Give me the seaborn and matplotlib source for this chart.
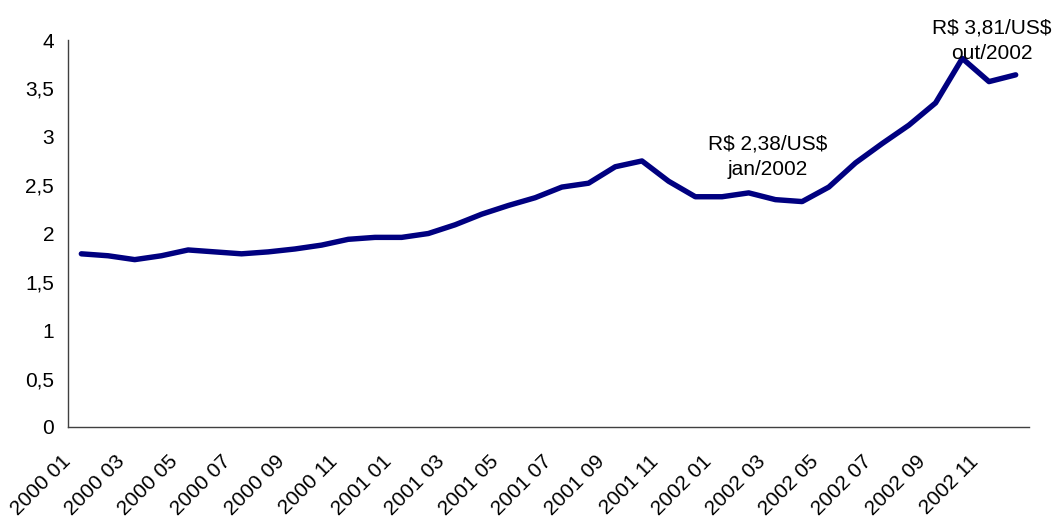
import numpy as np
import pandas as pd
import matplotlib
matplotlib.use("Agg")
import matplotlib.pyplot as plt
import matplotlib.transforms as mtransforms
import seaborn as sns
from matplotlib.ticker import FixedLocator, MultipleLocator, FuncFormatter

# Monthly exchange rate, R$ per US$
months = [f"{y} {m:02d}" for y in (2000, 2001, 2002) for m in range(1, 13)]
rate = [1.79, 1.77, 1.73, 1.77, 1.83, 1.81, 1.79, 1.81, 1.84, 1.88, 1.94, 1.96,
        1.96, 2.00, 2.09, 2.20, 2.29, 2.37, 2.48, 2.52, 2.69, 2.75, 2.54, 2.38,
        2.38, 2.42, 2.35, 2.33, 2.48, 2.73, 2.93, 3.12, 3.35, 3.81, 3.57, 3.64]
tick_labels = months[::2]

df = pd.DataFrame({"pos": np.arange(len(months)), "rate": rate})

sns.set_style("white")
plt.rcParams["font.family"] = ["Liberation Sans", "DejaVu Sans"]

fig = plt.figure(figsize=(10.59, 5.17), dpi=100)
ax = fig.add_axes([0.0642, 0.1741, 0.9075, 0.7485])

sns.lineplot(data=df, x="pos", y="rate", ax=ax, color="#000080", linewidth=3.9,
             solid_capstyle="round", solid_joinstyle="round")

ax.set_xlim(-0.5, len(months) - 0.5)
ax.set_ylim(0, 4)
ax.yaxis.set_major_locator(MultipleLocator(0.5))
ax.yaxis.set_major_formatter(FuncFormatter(lambda v, _: f"{v:g}".replace(".", ",")))

# tick marks on category boundaries, labels on every other category
ax.xaxis.set_minor_locator(FixedLocator(np.arange(-0.5, len(months), 1.0)))
ax.xaxis.set_major_locator(FixedLocator(np.arange(0, len(months), 2)))
ax.set_xticklabels(tick_labels, rotation=45, ha="right", rotation_mode="anchor")
ax.tick_params(axis="x", which="major", length=0, pad=18, labelsize=15, labelcolor="black")
ax.tick_params(axis="x", which="minor", length=6, width=1, color="#404040", direction="out")
ax.tick_params(axis="y", which="major", length=6, width=1, color="#404040",
               direction="out", labelsize=15, labelcolor="black", pad=4)
shift = mtransforms.ScaledTranslation(-20 / 100, 0, fig.dpi_scale_trans)
for lbl in ax.get_xticklabels():
    lbl.set_transform(lbl.get_transform() + shift)
ax.set_xlabel("")
ax.set_ylabel("")

for side in ("top", "right"):
    ax.spines[side].set_visible(False)
for side in ("left", "bottom"):
    ax.spines[side].set_color("#404040")
    ax.spines[side].set_linewidth(1)

ax.text(25.7, 2.79, "R\\$ 2,38/US\\$\njan/2002", ha="center", va="center",
        fontsize=15, linespacing=1.45, color="black")
ax.text(34.1, 3.99, "R\\$ 3,81/US\\$\nout/2002", ha="center", va="center",
        fontsize=15, linespacing=1.45, color="black", clip_on=False)

fig.savefig("out.png", dpi=100, facecolor="white")
